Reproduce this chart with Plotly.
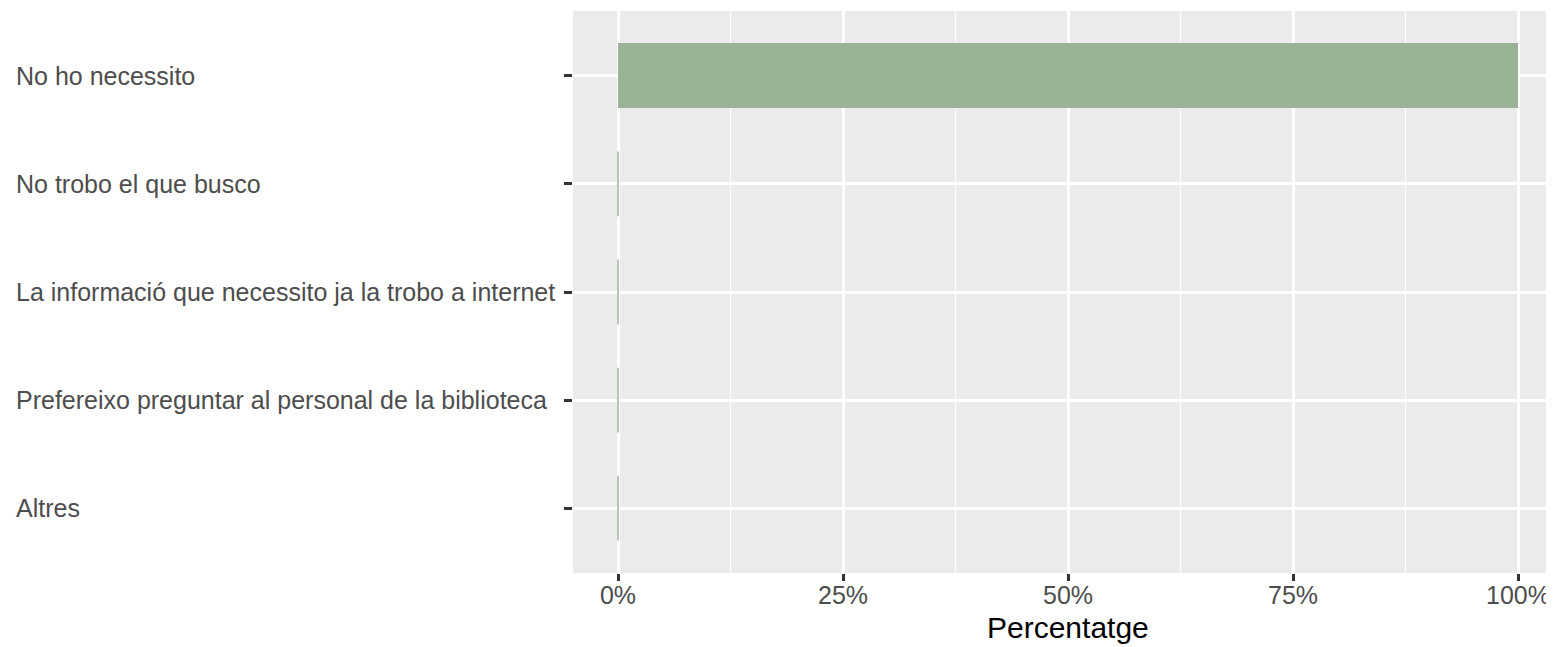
import plotly.graph_objects as go

categories = [
    "No ho necessito",
    "No trobo el que busco",
    "La informació que necessito ja la trobo a internet",
    "Prefereixo preguntar al personal de la biblioteca",
    "Altres",
]
percentages = [100, 0, 0, 0, 0]
x_ticks = [0, 25, 50, 75, 100]
x_tick_labels = ["0%", "25%", "50%", "75%", "100%"]
x_title = "Percentatge"

BAR_COLOR = "#9AB396"
BAR_WIDTH = 0.6
positions = list(range(len(categories)))

fig = go.Figure()
fig.add_trace(go.Bar(
    x=percentages, y=positions, orientation="h", width=BAR_WIDTH,
    marker=dict(color=BAR_COLOR, line=dict(width=0)),
    hoverinfo="skip", showlegend=False,
))

# zero-length bars render as a thin sliver in the original
for p, v in zip(positions, percentages):
    if v == 0:
        fig.add_trace(go.Scatter(
            x=[v, v], y=[p - BAR_WIDTH / 2, p + BAR_WIDTH / 2], mode="lines",
            line=dict(color="#93A890", width=1.3), hoverinfo="skip", showlegend=False,
        ))

font_family = "Liberation Sans, Arial, sans-serif"

# page body has an 8px margin, so the figure is 8px smaller and shifted
fig.update_layout(
    width=1546, height=639,
    margin=dict(l=565, r=0, t=3, b=74),
    paper_bgcolor="white", plot_bgcolor="#EBEBEB",
    font=dict(family=font_family, size=25, color="#4D4D4D"),
    bargap=0,
)
fig.update_xaxes(
    range=[-5, 104], tickvals=x_ticks, ticktext=x_tick_labels,
    showgrid=True, gridcolor="white", gridwidth=2.5,
    minor=dict(tickvals=[12.5, 37.5, 62.5, 87.5], showgrid=True, gridcolor="white", gridwidth=1.3, ticklen=0),
    ticks="outside", ticklen=7, tickwidth=2.5, tickcolor="#333333",
    ticklabelstandoff=-7,
    tickfont=dict(size=25, color="#4D4D4D"),
    zeroline=False, showline=False,
)
fig.update_yaxes(
    range=[len(categories) - 0.4, -0.6], tickvals=positions, ticktext=[""] * len(categories),
    showgrid=True, gridcolor="white", gridwidth=2.5,
    ticks="outside", ticklen=8, tickwidth=2.5, tickcolor="#333333",
    zeroline=False, showline=False,
)

for p, c in zip(positions, categories):
    fig.add_annotation(
        text=c, xref="paper", yref="y", x=0, y=p, xanchor="left", yanchor="middle",
        xshift=-559, showarrow=False, font=dict(size=25, color="#4D4D4D", family=font_family),
    )

fig.add_annotation(
    text=x_title, xref="paper", yref="paper", x=(1068 - 573) / 981, y=0,
    xanchor="center", yanchor="middle", yshift=-54, showarrow=False,
    font=dict(size=30, color="black", family=font_family),
)

fig.write_html("out.html")
